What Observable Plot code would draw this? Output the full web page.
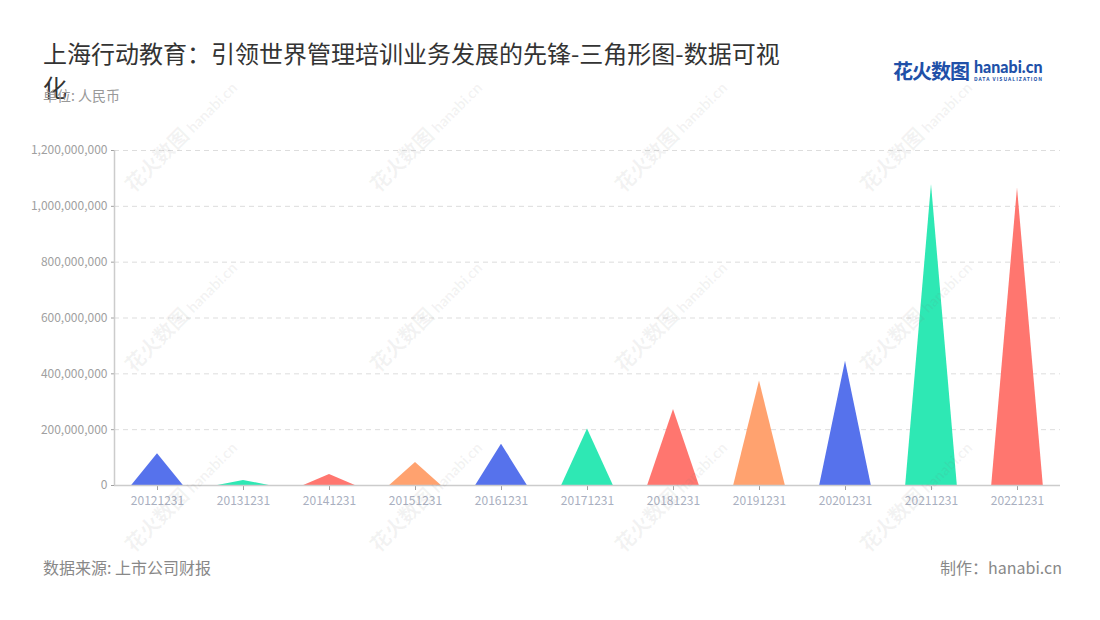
<!DOCTYPE html>
<html>
<head>
<meta charset="utf-8">
<script src="https://cdn.jsdelivr.net/npm/d3@7"></script>
<script src="https://cdn.jsdelivr.net/npm/@observablehq/plot@0.6"></script>
<style>
  body { margin: 0; background: #fff; }
  #wrap { position: relative; width: 1100px; height: 620px; font-family: "Noto Sans CJK SC", "Noto Sans", sans-serif; overflow: hidden; }
  #title { position: absolute; left: 43px; top: 36px; width: 750px; font-size: 24px; line-height: 34px; color: #333; }
  #sub { position: absolute; left: 43px; top: 85px; font-size: 14px; color: #999; }
  #logo { position: absolute; left: 893px; top: 56px; color: #2050a8; white-space: nowrap; }
  #logo .cn { font-size: 20px; font-weight: 700; letter-spacing: -1px; vertical-align: top; }
  #logo .en { display: inline-block; margin-left: 5px; vertical-align: top; line-height: 1; }
  #logo .en b { font-family: "Lato", "Noto Sans", sans-serif; font-size: 16px; font-weight: 900; display: block; margin-top: 3px; }
  #logo .en i { font-style: normal; font-size: 5px; letter-spacing: 1px; display: block; margin-top: 1px; font-weight: 700; }
  #chart { position: absolute; left: 0; top: 130px; }
  #src { position: absolute; left: 43px; top: 555px; font-size: 16px; color: #888; }
  #maker { position: absolute; right: 38px; top: 555px; font-size: 16px; color: #888; }
  .wm { position: absolute; transform: translate(-50%, -50%) rotate(-45deg); color: rgba(120,120,120,0.09); white-space: nowrap; font-weight: 700; pointer-events: none; }
  .wm .a { font-size: 20px; }
  .wm .b { font-size: 15px; margin-left: 4px; font-family: "Lato", sans-serif; }
  #chart svg text { font-family: "Noto Sans CJK SC", "Noto Sans", sans-serif; }
  #chart [aria-label^="x-axis"] text { fill: #a9afc0; }
</style>
</head>
<body>
<div id="wrap">
  <div id="title">上海行动教育：引领世界管理培训业务发展的先锋-三角形图-数据可视化</div>
  <div id="sub">单位: 人民币</div>
  <div id="logo"><span class="cn">花火数图</span><span class="en"><b>hanabi.cn</b><i>DATA VISUALIZATION</i></span></div>
  <div id="chart"></div>
  <div id="src">数据来源: 上市公司财报</div>
  <div id="maker">制作：hanabi.cn</div>
</div>
<script>
const years = ["20121231","20131231","20141231","20151231","20161231","20171231","20181231","20191231","20201231","20211231","20221231"];
const values = [114e6, 18e6, 39e6, 82e6, 148e6, 202e6, 272e6, 374e6, 445e6, 1078e6, 1066e6];
const palette = ["#5672EC", "#2EE8B4", "#FF766F", "#FFA26F"];
const yTicks = [0, 200e6, 400e6, 600e6, 800e6, 1000e6, 1200e6];

// watermarks
const wrap = document.getElementById("wrap");
for (const cy of [135, 315, 495]) {
  for (const cx of [180, 425, 670, 915]) {
    const d = document.createElement("div");
    d.className = "wm";
    d.style.left = cx + "px";
    d.style.top = cy + "px";
    d.innerHTML = '<span class="a">花火数图</span><span class="b">hanabi.cn</span>';
    wrap.appendChild(d);
  }
}

const half = 0.3;
const pts = [];
years.forEach((yr, i) => {
  const c = palette[i % palette.length];
  pts.push({x: i - half, y: 0, k: yr, c});
  pts.push({x: i, y: values[i], k: yr, c});
  pts.push({x: i + half, y: 0, k: yr, c});
});
const idx = years.map((_, i) => i);

const chart = Plot.plot({
  width: 1100,
  height: 390,
  marginLeft: 114,
  marginRight: 40,
  marginTop: 20,
  marginBottom: 35,
  style: {fontSize: "12px", color: "#a0a0a0", background: "transparent", overflow: "visible"},
  x: {type: "linear", domain: [-0.5, years.length - 0.5], ticks: idx, tickFormat: i => years[i], tickSize: 5, tickPadding: 6, label: null},
  y: {domain: [0, 1.2e9], ticks: yTicks, tickFormat: d3.format(","), tickSize: 3, tickPadding: 4, label: null},
  color: {type: "identity"},
  marks: [
    Plot.ruleY(yTicks.slice(1), {stroke: "#dddddd", strokeDasharray: "5,4", strokeWidth: 1}),
    Plot.areaY(pts, {x: "x", y: "y", z: "k", fill: "c", curve: "linear"}),
    Plot.ruleX([-0.5], {y1: 0, y2: 1.2e9, stroke: "#cccccc", strokeWidth: 1.5}),
    Plot.ruleY([0], {stroke: "#cccccc", strokeWidth: 1.5})
  ]
});
document.getElementById("chart").appendChild(chart);
</script>
</body>
</html>
